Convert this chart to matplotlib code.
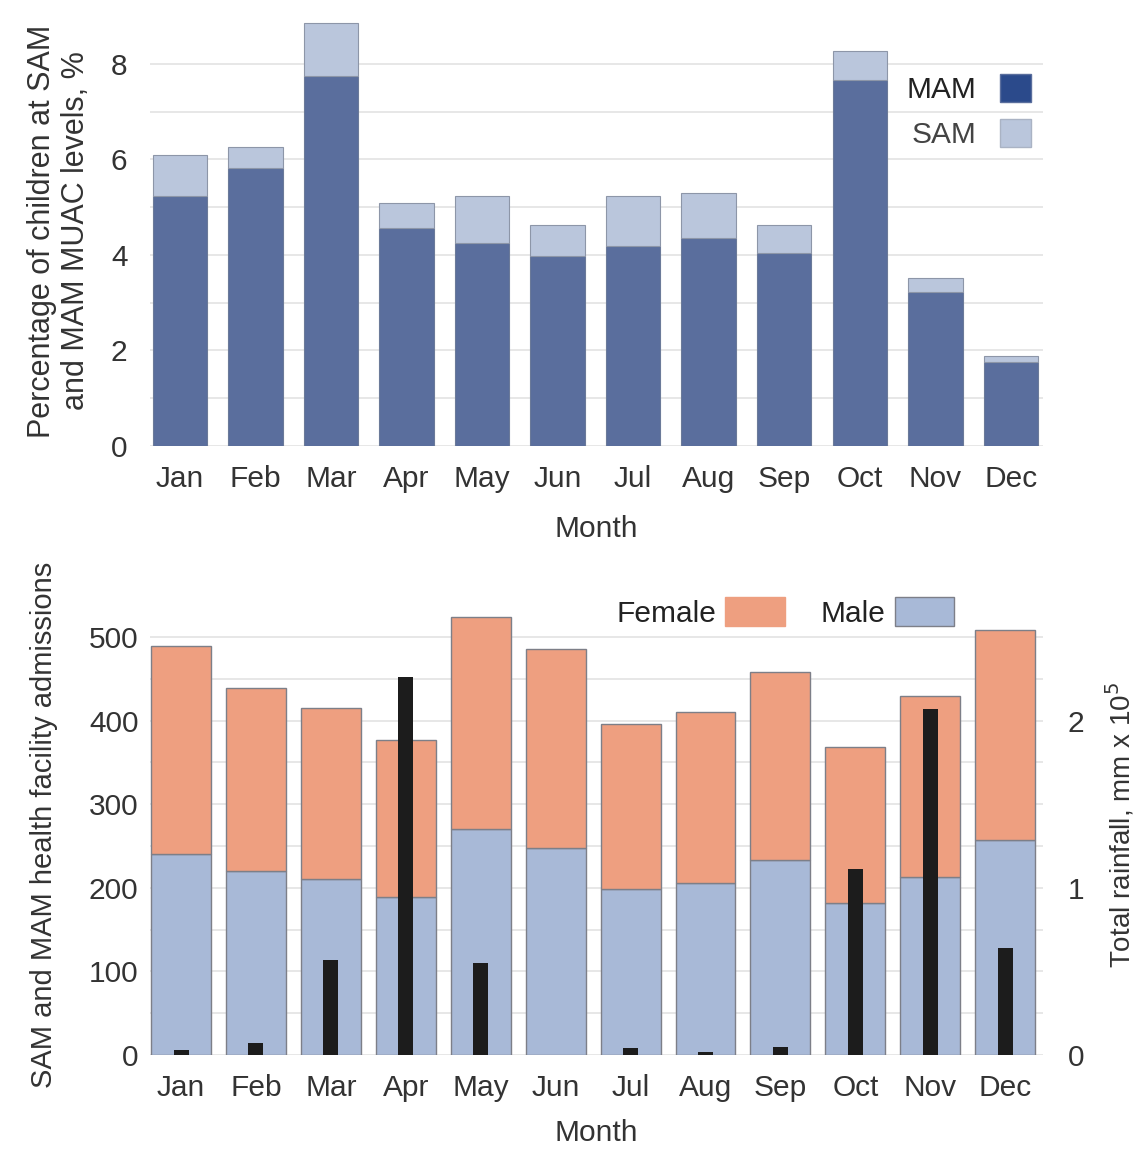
import matplotlib
matplotlib.use("Agg")
import matplotlib.pyplot as plt
from matplotlib.patches import Patch
import numpy as np

plt.rcParams['font.family'] = ['Liberation Sans', 'DejaVu Sans']

months = ["Jan", "Feb", "Mar", "Apr", "May", "Jun", "Jul", "Aug", "Sep", "Oct", "Nov", "Dec"]
mam_pct = [5.23, 5.83, 7.75, 4.57, 4.25, 3.97, 4.18, 4.35, 4.04, 7.66, 3.22, 1.76]
total_pct = [6.10, 6.27, 8.86, 5.08, 5.23, 4.63, 5.23, 5.30, 4.63, 8.26, 3.51, 1.88]
male_adm = [241, 220, 210, 189, 270, 248, 198, 206, 233, 182, 213, 257]
total_adm = [489, 439, 415, 377, 524, 486, 396, 410, 458, 368, 429, 508]
rainfall = [0.03, 0.07, 0.57, 2.26, 0.55, 0.0, 0.04, 0.02, 0.05, 1.11, 2.07, 0.64]

sam_pct = [t - m for t, m in zip(total_pct, mam_pct)]
female_adm = [t - m for t, m in zip(total_adm, male_adm)]

txt = '#333333'
TICK = 21.5
fig = plt.figure(figsize=(11.42, 11.55), dpi=100)

# ---------- top chart ----------
ax1 = fig.add_axes([0.131, 0.614, 0.782, 0.372])
x = np.arange(len(months))
ax1.bar(x, mam_pct, width=0.72, color='#5a6e9d', edgecolor='#6b7a99', linewidth=0.8, zorder=3)
ax1.bar(x, sam_pct, bottom=mam_pct, width=0.72, color='#bac6dc', edgecolor='#8d96a8', linewidth=0.8, zorder=3)
ax1.set_xlim(-0.4, 11.42)
ax1.set_ylim(0, 9)
ax1.set_yticks([0, 2, 4, 6, 8])
ax1.set_yticks(np.arange(0, 9, 1), minor=True)
ax1.grid(True, which='both', axis='y', color='#e3e3e3', linewidth=1.2, zorder=0)
ax1.set_xticks(x)
ax1.set_xticklabels(months)
for s in ax1.spines.values():
    s.set_visible(False)
ax1.tick_params(axis='both', which='both', length=0, labelsize=TICK, colors=txt)
ax1.tick_params(axis='y', pad=16)
ax1.tick_params(axis='x', pad=14)
ax1.set_xlabel("Month", fontsize=TICK, color=txt, labelpad=16)
ax1.set_ylabel("Percentage of children at SAM\nand MAM MUAC levels, %", fontsize=22, color=txt,
               labelpad=14, linespacing=1.2)
h1 = [Patch(facecolor='#2b4a8b', edgecolor='#5a6e9d', label='MAM'),
      Patch(facecolor='#bac6dc', edgecolor='#aab3c4', label='SAM')]
leg1 = ax1.legend(handles=h1, loc='upper right', bbox_to_anchor=(1.004, 0.90), frameon=False,
                  markerfirst=False, fontsize=TICK, handlelength=1.05, handleheight=1.05,
                  handletextpad=0.8, labelspacing=0.5, borderpad=0)
for t in leg1.get_texts():
    t.set_color('#222222')
leg1.get_texts()[1].set_color('#444444')

# ---------- bottom chart ----------
ax2 = fig.add_axes([0.131, 0.0866, 0.782, 0.398])
ax2.bar(x, male_adm, width=0.8, color='#a8b9d7', edgecolor='#7d7f88', linewidth=1.0, zorder=3)
ax2.bar(x, female_adm, bottom=male_adm, width=0.8, color='#ee9f80', edgecolor='#7d7f88', linewidth=1.0, zorder=3)
ax2.set_xlim(-0.42, 11.5)
ax2.set_ylim(0, 550)
ax2.set_yticks([0, 100, 200, 300, 400, 500])
ax2.set_yticks(np.arange(0, 501, 50), minor=True)
ax2.grid(True, which='both', axis='y', color='#e3e3e3', linewidth=1.2, zorder=0)
ax2.set_xticks(x)
ax2.set_xticklabels(months)
for s in ax2.spines.values():
    s.set_visible(False)
ax2.tick_params(axis='both', which='both', length=0, labelsize=TICK, colors=txt)
ax2.tick_params(axis='y', pad=8)
ax2.tick_params(axis='x', pad=14)
ax2.set_xlabel("Month", fontsize=TICK, color=txt, labelpad=12)
ax2.set_ylabel("SAM and MAM health facility admissions", fontsize=21, color=txt, labelpad=22)

ax3 = ax2.twinx()
ax3.bar(x, rainfall, width=0.2, color='#1c1c1c', zorder=5)
ax3.set_ylim(0, 2.75)
ax3.set_yticks([0, 1, 2])
for s in ax3.spines.values():
    s.set_visible(False)
ax3.tick_params(axis='y', length=0, labelsize=TICK, colors=txt, pad=18)
ax3.set_ylabel("Total rainfall, mm x 10$^5$", fontsize=20, color=txt, labelpad=14)

h2 = [Patch(facecolor='#ee9f80', edgecolor='#ee9f80', label='Female'),
      Patch(facecolor='#a8b9d7', edgecolor='#7d7f88', label='Male')]
leg2 = ax3.legend(handles=h2, loc='upper right', bbox_to_anchor=(0.918, 1.028), frameon=False,
                  markerfirst=False, ncol=2, fontsize=TICK, handlelength=2.0, handleheight=1.1,
                  handletextpad=0.3, columnspacing=1.2, borderpad=0)
for t in leg2.get_texts():
    t.set_color('#222222')

fig.savefig("out.png", dpi=100)
